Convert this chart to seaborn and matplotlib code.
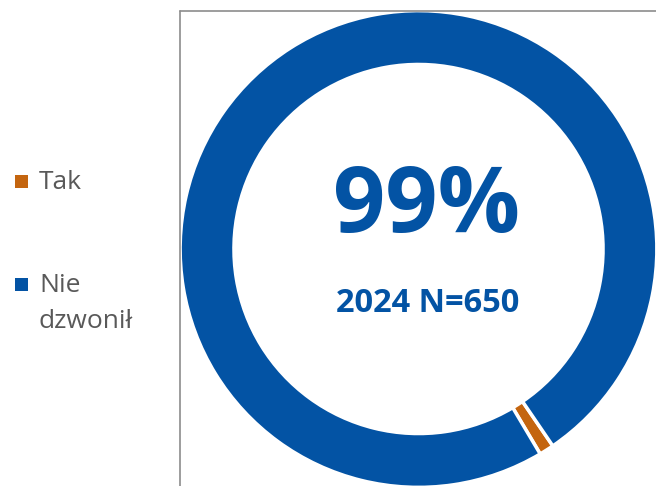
import matplotlib
matplotlib.use("Agg")
import matplotlib.pyplot as plt
import seaborn as sns
from matplotlib.patches import Rectangle
from matplotlib.lines import Line2D

categories = ["Tak", "Nie dzwonił"]
legend_lines = [["Tak"], ["Nie", "dzwonił"]]
values = [1, 99]
colors = ["#C4650F", "#0353A4"]
center_text = "99%"
sub_text = "2024 N=650"

sns.set_theme(style="white")
plt.rcParams['font.family'] = ['Open Sans', 'DejaVu Sans']

W, H = 656, 486
fig = plt.figure(figsize=(W / 100, H / 100), dpi=100)
fig.patch.set_facecolor("white")

cx, cy, R = 418.5, 249, 236
ax = fig.add_axes([(cx - R) / W, (H - cy - R) / H, 2 * R / W, 2 * R / H])
ax.pie(values, colors=colors, startangle=-55.7, counterclock=False,
       radius=1.01, wedgeprops=dict(width=0.228, edgecolor="white", linewidth=2.5))
ax.set_xlim(-1, 1)
ax.set_ylim(-1, 1)
ax.set_aspect("equal")
ax.axis("off")

ax.text(0.035, 0.175, center_text, ha="center", va="center", fontsize=66,
        fontweight="bold", color="#0353A4")
ax.text(0.04, -0.23, sub_text, ha="center", va="center", fontsize=23.5,
        fontweight="bold", color="#0353A4")

# frame lines
fig.add_artist(Line2D([180 / W, 180 / W], [0, 1 - 11 / H], color="#8C8C8C", lw=1.2))
fig.add_artist(Line2D([180 / W, 1], [1 - 11 / H, 1 - 11 / H], color="#8C8C8C", lw=1.2))

# legend
square_y = [181, 284]
baselines = [[189], [292, 328]]
for lines, col, yy, bls in zip(legend_lines, colors, square_y, baselines):
    fig.add_artist(Rectangle((15 / W, 1 - (yy + 7) / H), 13 / W, 13 / H,
                             facecolor=col, edgecolor="none", transform=fig.transFigure))
    for txt, bl in zip(lines, bls):
        fig.text(39 / W, 1 - bl / H, txt, ha="left", va="baseline", fontsize=19,
                 color="#595959")

fig.savefig("out.png", dpi=100, facecolor="white")
